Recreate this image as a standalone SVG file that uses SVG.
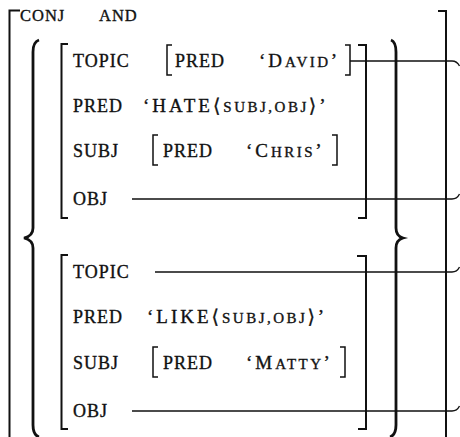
<svg xmlns="http://www.w3.org/2000/svg" width="460" height="437" viewBox="0 0 460 437">
<style>
text{font-family:"Liberation Serif","DejaVu Serif",serif;fill:#111;stroke:#111;stroke-width:0.35;}
.lb{font-size:18px;letter-spacing:1px;}
.hd{font-size:16.5px;letter-spacing:1px;}
.v{font-size:19px;letter-spacing:3px;}
.sc{font-size:15px;letter-spacing:2.5px;}
.br{fill:none;stroke:#111;stroke-width:2;}
.sb{fill:none;stroke:#111;stroke-width:1.5;}
.cb{fill:none;stroke:#111;stroke-width:2.8;}
.ln{fill:none;stroke:#111;stroke-width:1.3;}
</style>
<rect width="460" height="437" fill="#fff"/>
<g id="outer">
<path class="br" d="M20,10.5 H9.5 V437"/>
<path class="br" d="M438,11 H446 V437"/>
<text class="hd" x="20" y="20.5">CONJ</text>
<text class="hd" x="99" y="20.5">AND</text>
<path class="cb" d="M39,40 Q33,42 33,52 V228 Q33,236 24,238 Q33,240 33,248 V425 Q33,435 39,437"/>
<path class="cb" d="M391,40 Q396,42 396,52 V228 Q396,236 403,238 Q396,240 396,248 V425 Q396,435 390,437"/>
</g>
<g id="conjunct1">
<path class="br" d="M68,44 H61.5 V218 H68"/>
<path class="br" d="M358,45 H366 V218 H358"/>
<text class="lb" x="73" y="67">TOPIC</text>
<text class="lb" x="73" y="112">PRED</text>
<text class="lb" x="73" y="157">SUBJ</text>
<text class="lb" x="73" y="205">OBJ</text>
<text class="v" x="143" y="112">&#8216;HATE&#10216;<tspan class="sc">SUBJ,OBJ</tspan>&#10217;&#8217;</text>
</g>
<g id="topic1">
<path class="sb" d="M172,45 H167 V75 H172"/>
<path class="sb" d="M345,45 H350 V75 H345"/>
<text class="lb" x="175" y="67">PRED</text>
<text class="v" x="259" y="67">&#8216;D<tspan class="sc">AVID</tspan>&#8217;</text>
</g>
<g id="subj1">
<path class="sb" d="M158,135 H153 V165 H158"/>
<path class="sb" d="M332,135 H337 V165 H332"/>
<text class="lb" x="163" y="157">PRED</text>
<text class="v" x="246" y="157">&#8216;C<tspan class="sc">HRIS</tspan>&#8217;</text>
</g>
<g id="conjunct2">
<path class="br" d="M68,255 H61.5 V429 H68"/>
<path class="br" d="M357,256 H366 V429 H358"/>
<text class="lb" x="73" y="278">TOPIC</text>
<text class="lb" x="73" y="323">PRED</text>
<text class="lb" x="73" y="369">SUBJ</text>
<text class="lb" x="73" y="417">OBJ</text>
<text class="v" x="147" y="323">&#8216;LIKE&#10216;<tspan class="sc">SUBJ,OBJ</tspan>&#10217;&#8217;</text>
</g>
<g id="subj2">
<path class="sb" d="M158,347 H153 V377 H158"/>
<path class="sb" d="M340,347 H345 V377 H340"/>
<text class="lb" x="163" y="369">PRED</text>
<text class="v" x="246" y="369">&#8216;M<tspan class="sc">ATTY</tspan>&#8217;</text>
</g>
<g id="connectors">
<path class="ln" d="M350,61 H452 Q457,61 459.5,66"/>
<path class="ln" d="M132,199 H452 Q457,199 459.5,194"/>
<path class="ln" d="M155,272 H452 Q457,272 459.5,267"/>
<path class="ln" d="M132,411 H452 Q457,411 459.5,406"/>
</g>
</svg>
